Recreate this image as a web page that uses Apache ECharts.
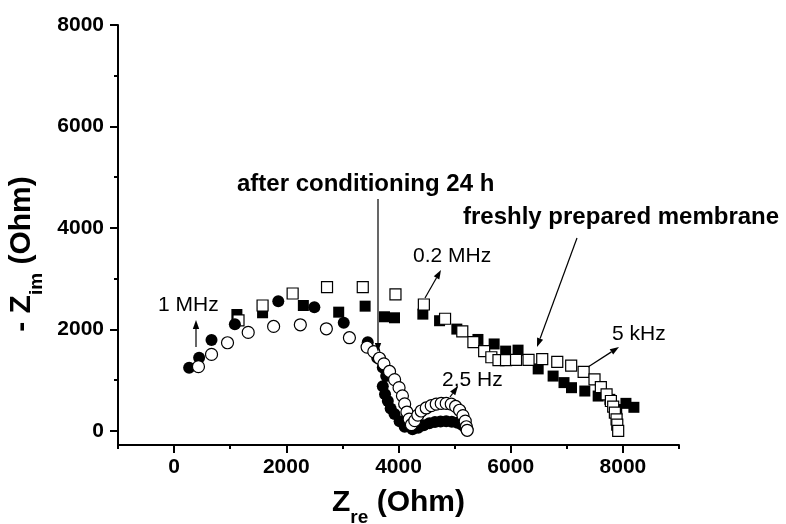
<!DOCTYPE html>
<html>
<head>
<meta charset="utf-8">
<script src="https://cdn.jsdelivr.net/npm/echarts@6/dist/echarts.min.js"></script>
<style>
html,body{margin:0;padding:0;background:#fff;}
#chart{width:786px;height:524px;}
</style>
</head>
<body>
<div id="chart"></div>
<script>
// ---- data (Z_re, -Z_im) in Ohm ----
const filledCircles = [[268,1244],[446,1440],[667,1788],[1083,2102],[1857,2555],[2500,2437],[3024,2130],[3452,1748],[3619,1440],[3720,1250],[3780,1079],[3720,880],[3760,720],[3810,587],[3860,440],[3929,330],[4020,190],[4110,80],[4250,30],[4350,60],[4450,110],[4550,150],[4650,175],[4750,185],[4850,190],[4950,180],[5050,160],[5130,120],[5190,60],[5230,20]];
const openCircles = [[434,1264],[667,1506],[952,1736],[1321,1939],[1774,2057],[2250,2090],[2714,2011],[3125,1835],[3440,1650],[3560,1560],[3660,1430],[3740,1320],[3840,1170],[3930,1010],[4010,850],[4070,690],[4110,530],[4150,370],[4190,230],[4230,120],[4290,200],[4345,310],[4405,390],[4494,450],[4584,495],[4673,525],[4762,540],[4851,540],[4941,525],[5018,480],[5089,405],[5149,300],[5190,190],[5210,80],[5225,10]];
const filledSquares = [[1119,2293],[1577,2327],[2304,2470],[2934,2339],[3405,2457],[3750,2248],[3929,2228],[4434,2300],[4732,2170],[5040,2005],[5416,1801],[5705,1712],[5910,1571],[6131,1590],[6490,1220],[6756,1079],[6950,950],[7084,850],[7321,784],[7559,685],[7768,620],[7890,420],[7890,250],[7900,120],[8054,541],[8196,463]];
const openSquares = [[1148,2175],[1577,2470],[2113,2707],[2726,2831],[3363,2831],[3946,2690],[4452,2490],[4830,2209],[5137,1962],[5335,1748],[5527,1571],[5655,1450],[5782,1394],[5917,1394],[6095,1397],[6318,1400],[6562,1414],[6830,1360],[7078,1283],[7300,1162],[7494,1014],[7607,862],[7709,718],[7786,587],[7827,476],[7857,358],[7887,226],[7900,120],[7916,0]];

const xMajorTicks = [0,2000,4000,6000,8000];
const xMinorTicks = [-1000,1000,3000,5000,7000,9000];
const yMajorTicks = [0,2000,4000,6000,8000];
const yMinorTicks = [1000,3000,5000,7000];

const FONT = '"Liberation Sans", Arial, sans-serif';

const chart = echarts.init(document.getElementById('chart'));

function arrow(x1,y1,x2,y2){
  const dx=x2-x1, dy=y2-y1, L=Math.sqrt(dx*dx+dy*dy);
  const ux=dx/L, uy=dy/L, hl=9, hw=3.2;
  const bx=x2-ux*hl, by=y2-uy*hl;
  return [
    {type:'line', shape:{x1:x1,y1:y1,x2:bx,y2:by}, style:{stroke:'#000',lineWidth:1.2}, z:100},
    {type:'polygon', shape:{points:[[x2,y2],[bx-uy*hw,by+ux*hw],[bx+uy*hw,by-ux*hw]]}, style:{fill:'#000'}, z:100}
  ];
}
function label(text,x,y,size,bold){
  return {type:'text', x:x, y:y, z:100, style:{text:text, fill:'#000', font:(bold?'bold ':'')+size+'px '+FONT, textAlign:'left', textVerticalAlign:'middle'}};
}

const graphics = [].concat(
  [label('after conditioning 24 h',237,184,24,true)],
  arrow(378,199,378,352),
  [label('freshly prepared membrane',463,217,24,true)],
  arrow(577,238,537,347),
  [label('0.2 MHz',413,256,21,false)],
  arrow(425,298,441,270),
  [label('1 MHz',158,305,21,false)],
  arrow(196,347,196,320),
  [label('2,5 Hz',442,380,21,false)],
  arrow(450,397,458,386),
  [label('5 kHz',612,334,21,false)],
  arrow(588,367,619,347)
);

const axisText = {fontFamily:FONT, fontWeight:'bold', fontSize:21, color:'#000', formatter:function(v){return String(v);}};

const option = {
  animation:false,
  backgroundColor:'#fff',
  grid:{left:118, right:107, top:25, bottom:79, containLabel:false, outerBoundsMode:'none'},
  xAxis:[
    {type:'value', min:-1000, max:9000, position:'bottom',
     axisLine:{onZero:false, lineStyle:{color:'#000', width:2}},
     axisTick:{customValues:xMajorTicks, length:8, lineStyle:{color:'#000', width:2}},
     axisLabel:Object.assign({customValues:xMajorTicks, margin:12}, axisText),
     splitLine:{show:false},
     name:'{a|Z}{s|re}{a| (Ohm)}', nameLocation:'middle', nameGap:33,
     nameTextStyle:{rich:{
       a:{fontFamily:FONT, fontWeight:'bold', fontSize:30, color:'#000'},
       s:{fontFamily:FONT, fontWeight:'bold', fontSize:19, color:'#000', padding:[30,0,0,0]}
     }}
    },
    {type:'value', min:-1000, max:9000, position:'bottom',
     axisLine:{show:false, onZero:false},
     axisTick:{customValues:xMinorTicks, length:4, lineStyle:{color:'#000', width:2}},
     axisLabel:{show:false}, splitLine:{show:false}
    }
  ],
  yAxis:[
    {type:'value', min:-280, max:8000, position:'left',
     axisLine:{onZero:false, lineStyle:{color:'#000', width:2}},
     axisTick:{customValues:yMajorTicks, length:8, lineStyle:{color:'#000', width:2}},
     axisLabel:Object.assign({customValues:yMajorTicks, margin:14}, axisText),
     splitLine:{show:false},
     name:'{a|- Z}{s|im}{e| (Ohm)}', nameLocation:'middle', nameGap:70, nameRotate:90,
     nameTextStyle:{rich:{
       a:{fontFamily:FONT, fontWeight:'bold', fontSize:30, color:'#000'},
       e:{fontFamily:FONT, fontWeight:'bold', fontSize:30, color:'#000', padding:[0,38,0,0]},
       s:{fontFamily:FONT, fontWeight:'bold', fontSize:19, color:'#000', padding:[30,0,0,0]}
     }}
    },
    {type:'value', min:-280, max:8000, position:'left',
     axisLine:{show:false, onZero:false},
     axisTick:{customValues:yMinorTicks, length:4, lineStyle:{color:'#000', width:2}},
     axisLabel:{show:false}, splitLine:{show:false}
    }
  ],
  series:[
    {name:'freshly prepared (filled)', type:'scatter', data:filledSquares, symbol:'rect', symbolSize:11,
     itemStyle:{color:'#000', opacity:1}, z:2},
    {name:'freshly prepared (open)', type:'scatter', data:openSquares, symbol:'rect', symbolSize:11,
     itemStyle:{color:'#fff', borderColor:'#000', borderWidth:1.2, opacity:1}, z:3},
    {name:'after conditioning (filled)', type:'scatter', data:filledCircles, symbol:'circle', symbolSize:12,
     itemStyle:{color:'#000', opacity:1}, z:4},
    {name:'after conditioning (open)', type:'scatter', data:openCircles, symbol:'circle', symbolSize:12,
     itemStyle:{color:'#fff', borderColor:'#000', borderWidth:1.2, opacity:1}, z:5}
  ],
  graphic:graphics
};
chart.setOption(option);
</script>
</body>
</html>
